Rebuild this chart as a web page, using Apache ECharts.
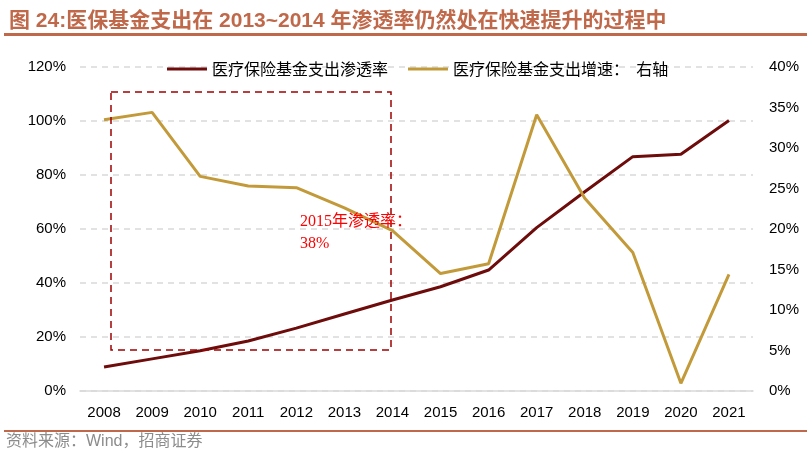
<!DOCTYPE html>
<html lang="zh">

<head>
    <meta charset="UTF-8">
    <script src="https://cdn.jsdelivr.net/npm/echarts@6/dist/echarts.min.js"></script>
    <title>医保基金支出渗透率</title>
    <style>
        html, body { margin: 0; padding: 0; background: #fff; }
        #main { width: 811px; height: 456px; }
    </style>
</head>

<body>
    <div id="main"></div>
    <script>
        var years = ['2008', '2009', '2010', '2011', '2012', '2013', '2014', '2015', '2016', '2017', '2018', '2019', '2020', '2021'];
        // 医疗保险基金支出渗透率 (左轴)
        var penetration = [8.9, 11.9, 14.9, 18.5, 23.3, 28.5, 33.7, 38.6, 44.8, 60.5, 73.8, 86.8, 87.7, 100.2];
        // 医疗保险基金支出增速 (右轴)
        var growth = [33.5, 34.4, 26.5, 25.3, 25.1, 22.6, 19.8, 14.5, 15.7, 34.1, 23.8, 17.1, 0.95, 14.4];
        var leftTicks = { min: 0, max: 120, interval: 20 };
        var rightTicks = { min: 0, max: 40, interval: 5 };

        var titleColor = '#C0694A';
        var chart = echarts.init(document.getElementById('main'));
        var option = {
            backgroundColor: '#fff',
            animation: false,
            title: {
                text: '图 24:医保基金支出在 2013~2014 年渗透率仍然处在快速提升的过程中',
                left: 4,
                top: 6,
                textStyle: {
                    color: titleColor,
                    fontSize: 21,
                    fontWeight: 'bold',
                    fontFamily: 'Liberation Sans, Noto Sans CJK SC'
                }
            },
            legend: {
                top: 56,
                left: 162,
                itemWidth: 40,
                itemHeight: 3,
                itemGap: 20,
                icon: 'rect',
                textStyle: {
                    fontSize: 16,
                    color: '#000',
                    fontFamily: 'Noto Sans CJK SC'
                },
                data: ['医疗保险基金支出渗透率', '医疗保险基金支出增速：  右轴']
            },
            grid: {
                left: 80,
                right: 58,
                top: 67,
                bottom: 65
            },
            xAxis: {
                type: 'category',
                data: years,
                axisLine: { lineStyle: { color: '#D9D9D9', width: 1.5 } },
                axisTick: { show: false },
                axisLabel: {
                    color: '#000',
                    fontSize: 15,
                    margin: 14,
                    fontFamily: 'Liberation Sans'
                }
            },
            yAxis: [
                {
                    type: 'value',
                    min: leftTicks.min,
                    max: leftTicks.max,
                    interval: leftTicks.interval,
                    axisLine: { show: false },
                    axisTick: { show: false },
                    splitLine: { lineStyle: { color: '#D9D9D9', type: [6, 5], width: 1.5 } },
                    axisLabel: {
                        formatter: '{value}%',
                        color: '#000',
                        fontSize: 15,
                        margin: 14,
                        fontFamily: 'Liberation Sans'
                    }
                },
                {
                    type: 'value',
                    min: rightTicks.min,
                    max: rightTicks.max,
                    interval: rightTicks.interval,
                    axisLine: { show: false },
                    axisTick: { show: false },
                    splitLine: { show: false },
                    axisLabel: {
                        formatter: '{value}%',
                        color: '#000',
                        fontSize: 15,
                        margin: 16,
                        fontFamily: 'Liberation Sans'
                    }
                }
            ],
            series: [
                {
                    name: '医疗保险基金支出渗透率',
                    type: 'line',
                    data: penetration,
                    yAxisIndex: 0,
                    symbol: 'none',
                    lineStyle: { color: '#6E0B0B', width: 3 },
                    itemStyle: { color: '#6E0B0B' }
                },
                {
                    name: '医疗保险基金支出增速：  右轴',
                    type: 'line',
                    data: growth,
                    yAxisIndex: 1,
                    symbol: 'none',
                    lineStyle: { color: '#C39A3A', width: 3 },
                    itemStyle: { color: '#C39A3A' }
                }
            ],
            graphic: [
                {
                    type: 'rect',
                    shape: { x: 111, y: 92, width: 280, height: 258 },
                    style: { fill: 'none', stroke: '#A00000', lineWidth: 1.5, lineDash: [7, 5] },
                    z: 10
                },
                {
                    type: 'text',
                    left: 300,
                    top: 211,
                    style: {
                        text: '2015年渗透率：\n38%',
                        fill: '#FF0000',
                        fontSize: 16,
                        lineHeight: 22,
                        fontFamily: 'Liberation Serif, Noto Sans CJK SC'
                    },
                    z: 11
                },
                {
                    type: 'rect',
                    shape: { x: 4, y: 33, width: 803, height: 3 },
                    style: { fill: titleColor }
                },
                {
                    type: 'rect',
                    shape: { x: 4, y: 430, width: 803, height: 2 },
                    style: { fill: titleColor }
                },
                {
                    type: 'text',
                    left: 6,
                    top: 434,
                    style: {
                        text: '资料来源：Wind，招商证券',
                        fill: '#8C8C8C',
                        fontSize: 16,
                        fontFamily: 'Liberation Sans, Noto Sans CJK SC'
                    }
                }
            ]
        };
        chart.setOption(option);
    </script>
</body>

</html>
